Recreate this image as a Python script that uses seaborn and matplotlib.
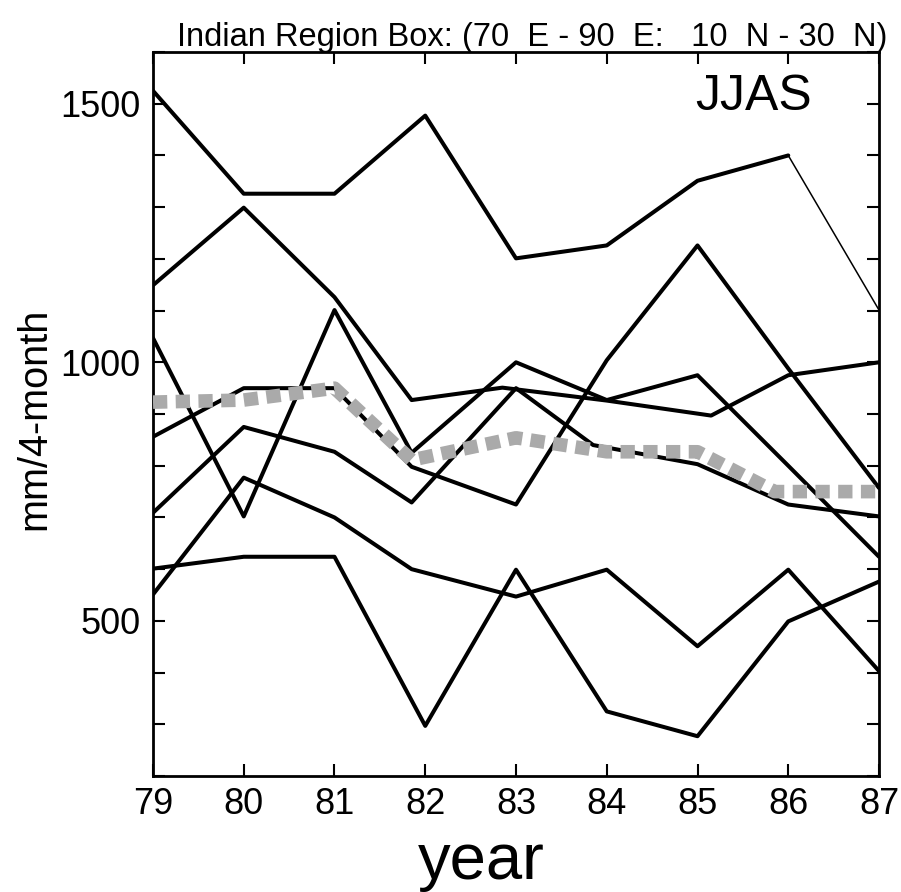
import matplotlib
matplotlib.use("Agg")
import matplotlib.pyplot as plt
import seaborn as sns
from matplotlib import font_manager
from matplotlib.ticker import FixedLocator, MultipleLocator

sns.set_theme(style="ticks")
plt.rcParams["font.family"] = ["Liberation Sans", "DejaVu Sans"]

# JJAS rainfall totals (mm per 4-month season), Indian region box
years = [79, 80, 81, 82, 83, 84, 85, 86, 87]

run_a_x = [79, 80, 81, 82, 83, 84, 85, 86, 87]
run_a_y = [1525, 1326, 1326, 1477, 1201, 1226, 1351, 1400, 1101]

run_b_x = [79, 80, 81, 81.85, 82.85, 84, 85.15, 86, 87]
run_b_y = [1149, 1299, 1126, 927, 951, 926, 897, 975, 1000]

run_c_x = [79, 80, 81, 81.85, 83, 84, 85, 86, 87]
run_c_y = [1047, 702, 1101, 825, 1000, 927, 975, 800, 624]

run_d_x = [79, 80, 81, 81.85, 83, 84, 85, 86, 87]
run_d_y = [856, 950, 950, 798, 725, 1004, 1226, 988, 757]

run_e_x = [79, 80, 81, 81.85, 83, 83.85, 85, 86, 87]
run_e_y = [709, 875, 827, 729, 950, 840, 803, 725, 702]

run_f_x = [79, 80, 81, 82, 83, 84, 85, 86, 87]
run_f_y = [601, 624, 624, 297, 599, 325, 277, 499, 576]

run_g_x = [79, 80, 81, 81.85, 83, 84, 85, 86, 87]
run_g_y = [551, 777, 700, 600, 547, 599, 451, 599, 403]

mean_x = [79, 80, 81, 81.85, 83, 84, 85, 85.85, 87]
mean_y = [923, 927, 950, 811, 854, 827, 827, 750, 750]

y_labels = [500, 1000, 1500]

installed = {f.name for f in font_manager.fontManager.ttflist}
has_narrow = "Liberation Sans Narrow" in installed
title_family = ["Liberation Sans Narrow", "DejaVu Sans"] if has_narrow \
    else ["Liberation Sans", "DejaVu Sans"]
title_size = 29.5 if has_narrow else 23.5

fig = plt.figure(figsize=(9.01, 8.92), dpi=100)
ax = fig.add_axes([0.1698, 0.1300, 0.8058, 0.8117])
ax.set_facecolor("white")

black_kw = dict(ax=ax, color="black", estimator=None, sort=False, zorder=3)

# first run: thick to 86, thin final segment
sns.lineplot(x=run_a_x[:8], y=run_a_y[:8], linewidth=2.9, **black_kw)
sns.lineplot(x=run_a_x[7:], y=run_a_y[7:], linewidth=1.1, **black_kw)

for xs, ys in [(run_b_x, run_b_y), (run_c_x, run_c_y), (run_d_x, run_d_y),
               (run_e_x, run_e_y), (run_f_x, run_f_y), (run_g_x, run_g_y)]:
    sns.lineplot(x=xs, y=ys, linewidth=2.9, **black_kw)

# ensemble mean, heavy grey square dots
sns.lineplot(x=mean_x, y=mean_y, ax=ax, color="#aaaaaa", linewidth=9.8,
             linestyle=(0, (1.05, 0.62)), dash_capstyle="butt",
             estimator=None, sort=False, zorder=4)

ax.set_xlim(79, 87)
ax.set_ylim(200, 1600)
ax.xaxis.set_major_locator(FixedLocator(years))
ax.set_xticklabels([str(y) for y in years])
ax.yaxis.set_major_locator(FixedLocator(y_labels))
ax.yaxis.set_minor_locator(MultipleLocator(100))
ax.set_yticklabels([str(v) for v in y_labels])

ax.tick_params(which="both", direction="in", length=8.6, width=1.5,
               top=True, right=True, colors="black")
ax.tick_params(axis="both", which="major", labelsize=26)
ax.tick_params(axis="y", which="major", pad=9)
ax.tick_params(axis="x", which="major", pad=8)

for side in ["left", "right", "top", "bottom"]:
    ax.spines[side].set_visible(True)
    ax.spines[side].set_color("black")
    ax.spines[side].set_linewidth(2)

ax.grid(False)

ax.set_xlabel("year", fontsize=47, va="baseline", color="black")
ax.xaxis.set_label_coords(0.4518, -0.1423)
ax.set_ylabel("mm/4-month", fontsize=28.5, color="black")
ax.yaxis.set_label_coords(-0.1377, 0.493)

ax.text(0.7466, 0.920, "JJAS", transform=ax.transAxes, fontsize=36,
        ha="left", va="baseline", color="black")

fig.text(887 / 901, 1 - 46 / 892,
         "Indian Region Box: (70  E - 90  E:   10  N - 30  N)",
         ha="right", va="baseline", fontsize=title_size, family=title_family,
         color="black")

fig.savefig("out.png", dpi=100, facecolor="white")
